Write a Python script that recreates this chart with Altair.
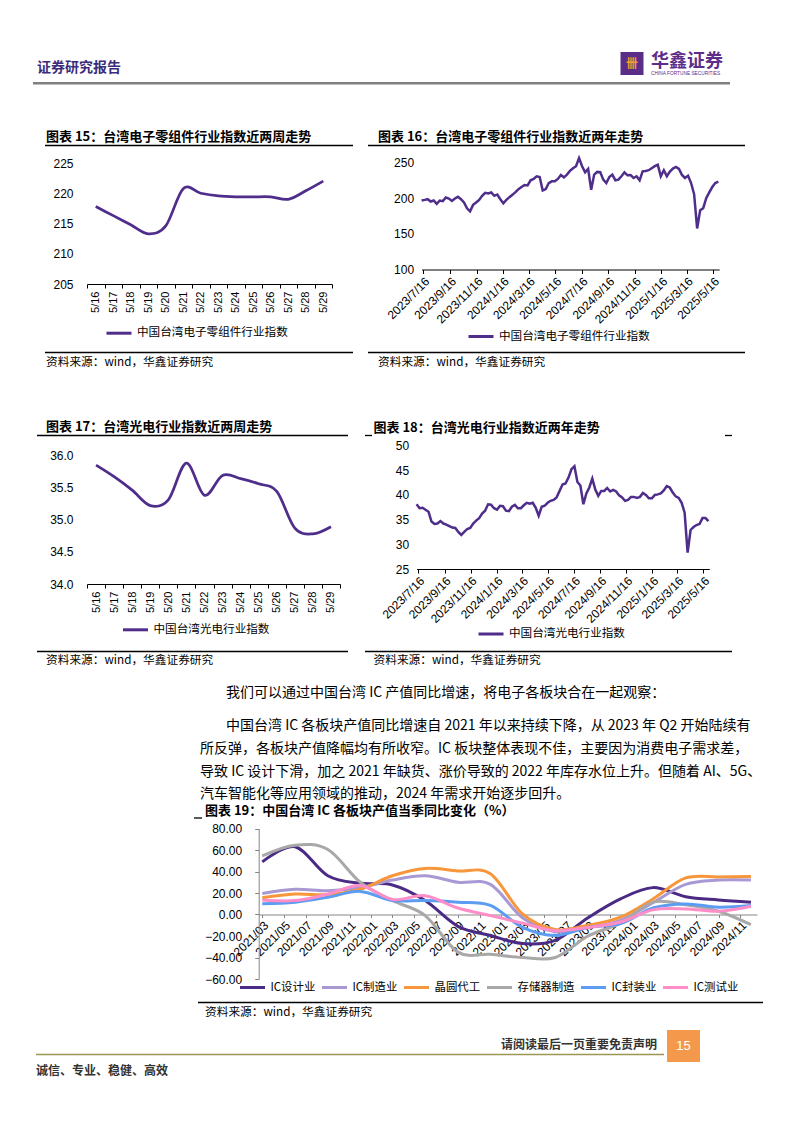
import altair as alt
import pandas as pd

W, H = 778, 1075
CJK = "Noto Sans CJK SC"
LAT = "Liberation Sans"
PURPLE = "#4F2D8B"


def P(v):
    """page pixel -> chart pixel (page has an 8px margin)"""
    return v - 8


# ------------------------------------------------------------------ data
c15_days = ["5/16", "5/17", "5/18", "5/19", "5/20", "5/21", "5/22",
            "5/23", "5/24", "5/25", "5/26", "5/27", "5/28", "5/29"]
c15_vals = [217.8, 216.3, 214.8, 213.3, 214.6, 220.75, 220.0,
            219.55, 219.4, 219.4, 219.4, 219.0, 220.4, 222.0]
c15_name = "中国台湾电子零组件行业指数"

c17_days = c15_days
c17_vals = [35.85, 35.67, 35.46, 35.22, 35.31, 35.88, 35.38,
            35.69, 35.64, 35.56, 35.44, 34.87, 34.78, 34.89]
c17_name = "中国台湾光电行业指数"

# weekly readings (Wednesdays from 2023-07-12)
c16_vals = [196.7, 197.6, 198.6, 195.3, 196.7, 192.0, 196.7, 195.8, 200.9, 199.5,
            196.2, 199.5, 201.9, 198.6, 193.9, 185.8, 181.6, 190.6, 193.9, 197.6,
            203.3, 207.5, 206.6, 208.0, 203.3, 205.2, 198.6, 192.9, 197.6, 201.4,
            204.7, 208.5, 212.7, 215.6, 218.4, 217.9, 225.0, 226.9, 230.7, 229.7,
            210.8, 212.7, 221.2, 223.6, 223.6, 226.9, 232.5, 229.2, 233.0, 238.2,
            242.0, 244.8, 256.1, 244.8, 236.3, 241.0, 211.8, 233.0, 236.8, 236.3,
            225.9, 221.2, 229.7, 233.0, 225.0, 225.9, 230.7, 236.3, 232.1, 232.5,
            228.3, 230.7, 225.0, 237.7, 238.2, 239.2, 242.0, 244.8, 246.7, 230.7,
            239.2, 230.7, 237.3, 241.5, 243.9, 241.0, 232.5, 228.3, 231.6, 221.2,
            205.7, 157.5, 183.0, 186.0, 200.0, 208.0, 215.6, 221.2, 223.1]
c18_vals = [38.1, 37.3, 37.4, 37.0, 36.6, 34.6, 34.1, 34.2, 34.7, 34.2,
            34.0, 33.7, 33.4, 33.3, 32.5, 31.9, 32.5, 33.1, 33.3, 34.2,
            34.8, 35.3, 36.2, 36.8, 38.1, 38.0, 37.3, 37.0, 37.8, 37.7,
            36.8, 36.7, 37.6, 38.0, 37.3, 37.3, 37.9, 38.4, 38.2, 38.4,
            37.4, 35.8, 37.6, 37.8, 38.4, 38.8, 39.0, 39.5, 40.8, 42.1,
            42.3, 43.5, 45.2, 45.8, 42.6, 41.9, 38.1, 40.3, 41.5, 43.3,
            41.1, 39.8, 40.8, 40.8, 41.4, 40.7, 41.0, 40.7, 39.9, 39.5,
            38.8, 39.0, 39.6, 39.6, 39.4, 39.6, 40.4, 40.0, 39.3, 39.3,
            40.0, 40.1, 40.3, 40.9, 41.8, 41.5, 40.5, 39.7, 39.4, 38.4,
            36.4, 28.3, 32.9, 33.5, 33.9, 34.1, 35.3, 35.3, 34.7]
week_dates = pd.date_range("2023-07-12", periods=len(c16_vals), freq="7D")
year_ticks = ["2023/7/16", "2023/9/16", "2023/11/16", "2024/1/16", "2024/3/16", "2024/5/16",
              "2024/7/16", "2024/9/16", "2024/11/16", "2025/1/16", "2025/3/16", "2025/5/16"]

q_dates = ["2021-03-01", "2021-06-01", "2021-09-01", "2021-12-01",
           "2022-03-01", "2022-06-01", "2022-09-01", "2022-12-01",
           "2023-03-01", "2023-06-01", "2023-09-01", "2023-12-01",
           "2024-03-01", "2024-06-01", "2024-09-01", "2024-12-01"]
ic_design = [49.0, 63.0, 36.0, 29.0, 27.5, 13.0, -11.0, -19.5, -27.0, -24.0, -3.0, 14.5, 25.0, 16.5, 13.5, 11.4]
ic_mfg = [19.5, 23.5, 22.0, 25.0, 32.0, 36.0, 30.0, 28.0, -3.0, -16.0, -12.0, -5.5, 11.0, 28.0, 32.0, 32.0]
foundry = [15.5, 19.0, 18.5, 23.5, 36.0, 42.8, 40.5, 38.0, 0.5, -14.0, -10.0, -2.5, 14.5, 34.0, 35.0, 35.4]
memory = [54.5, 64.5, 60.5, 30.0, 13.0, -1.0, -35.0, -37.0, -40.0, -40.0, -20.0, -8.0, 11.5, 9.0, 3.0, -9.5]
packaging = [10.0, 11.5, 16.0, 21.5, 13.0, 13.0, 11.5, 8.5, -12.0, -19.5, -12.0, -8.5, 6.0, 9.8, 6.8, 8.3]
testing = [13.5, 13.0, 19.0, 27.0, 14.0, 17.5, 6.0, -1.0, -8.0, -15.0, -12.0, -7.0, 4.3, 5.2, 3.0, 7.7]
series19 = ["IC设计业", "IC制造业", "晶圆代工", "存储器制造", "IC封装业", "IC测试业"]
colors19 = ["#4B2A85", "#A898D4", "#F7963A", "#A8A8A8", "#5C9CF2", "#FF8DC8"]
month_ticks = ["2021/03", "2021/05", "2021/07", "2021/09", "2021/11",
               "2022/01", "2022/03", "2022/05", "2022/07", "2022/09", "2022/11",
               "2023/01", "2023/03", "2023/05", "2023/07", "2023/09", "2023/11",
               "2024/01", "2024/03", "2024/05", "2024/07", "2024/09", "2024/11"]

# ------------------------------------------------------------------ helpers
dummy = pd.DataFrame({"k": [0]})


def txt(s, x, y, size=12, weight="normal", color="#000", font=CJK, align="left"):
    return alt.Chart(dummy).mark_text(
        align=align, baseline="middle", fontSize=size, fontWeight=weight,
        color=color, font=font
    ).encode(x=alt.value(P(x)), y=alt.value(P(y)), text=alt.value(s))


def hline(x1, x2, y, color="#000", w=1.2):
    return alt.Chart(dummy).mark_rule(color=color, strokeWidth=w).encode(
        x=alt.value(P(x1)), x2=alt.value(P(x2)), y=alt.value(P(y)))


def box(x1, x2, y1, y2, color):
    return alt.Chart(dummy).mark_rect(color=color).encode(
        x=alt.value(P(x1)), x2=alt.value(P(x2)), y=alt.value(P(y1)), y2=alt.value(P(y2)))


def yaxis(x_at, values, pad, fmt=None, ticks=False, domain=False, color="#000"):
    kw = dict(orient="left", offset=-P(x_at), values=values, title=None, grid=False,
              labelFont=LAT, labelFontSize=12, labelColor="#000", labelPadding=pad,
              domain=domain, ticks=ticks, tickSize=4 if ticks else 0,
              domainColor=color, tickColor=color)
    if fmt:
        kw["format"] = fmt
    return alt.Axis(**kw)


def xband_axis(y_at):
    return alt.Axis(orient="bottom", offset=P(y_at) - H, title=None, grid=False,
                    domainColor="#000", tickColor="#000", tickSize=4, tickBand="extent",
                    labelAngle=-90, labelAlign="right", labelBaseline="middle",
                    labelFont=LAT, labelFontSize=11, labelColor="#000", labelPadding=3,
                    labelOverlap=False, labelFlush=False)


def xtime_axis(y_at, vals, fmt, color="#000", tick=4):
    return alt.Axis(orient="bottom", offset=P(y_at) - H, values=vals, format=fmt,
                    title=None, grid=False, domainColor=color, tickColor=color,
                    tickSize=tick, labelAngle=-45, labelAlign="right", labelBaseline="top",
                    labelFont=LAT, labelFontSize=12, labelColor="#000", labelPadding=2,
                    labelOverlap=False, labelFlush=False)


def legend(x, y, size=11.6, **extra):
    return alt.Legend(orient="none", legendX=P(x), legendY=P(y) - 12.5,
                      direction="horizontal", title=None, symbolType="stroke",
                      symbolSize=625, symbolStrokeWidth=3, labelFont=CJK,
                      labelFontSize=size, labelColor="#000", labelOffset=4,
                      padding=0, **extra)


def dt(s):
    parts = [int(p) for p in s.replace("-", "/").split("/")]
    if len(parts) == 2:
        parts.append(1)
    return alt.DateTime(year=parts[0], month=parts[1], date=parts[2])


layers = []

# ------------------------------------------------------------------ header
layers += [
    txt("证券研究报告", 37, 68, size=14, weight="bold", color="#3C2D7C"),
    box(620.5, 643.5, 52, 75, "#5A2D86"),
    txt("卌", 632, 64, size=12, weight="bold", color="#F39A3C", align="center"),
    txt("华鑫证券", 651, 61.5, size=18, weight="bold", color="#5E2D89"),
    txt("CHINA FORTUNE SECURITIES", 651, 73.5, size=4.8, color="#5E2D89", font=LAT),
    hline(33, 730, 83.3, color="#7F7F7F", w=2.5),
]

# ------------------------------------------------------------------ chart 15
df15 = pd.DataFrame({"d": c15_days, "v": c15_vals, "s": c15_name})
ch15 = alt.Chart(df15).mark_line(interpolate="cardinal", strokeWidth=2.75).encode(
    x=alt.X("d:N", sort=c15_days,
            scale=alt.Scale(type="band", domain=c15_days, range=[P(87), P(332)],
                            paddingInner=0, paddingOuter=0),
            axis=xband_axis(284)),
    y=alt.Y("v:Q", scale=alt.Scale(domain=[205, 225], range=[P(284), P(163)], nice=False, zero=False),
            axis=yaxis(87, [205, 210, 215, 220, 225], pad=14)),
    color=alt.Color("s:N", scale=alt.Scale(domain=[c15_name], range=[PURPLE]),
                    legend=legend(105, 331.7)),
)
layers += [
    txt("图表 15：台湾电子零组件行业指数近两周走势", 46, 137, size=13, weight="bold"),
    hline(45, 353, 145.5, w=1.3),
    ch15,
    hline(45, 353, 352.5, w=1.3),
    txt("资料来源：wind，华鑫证券研究", 46, 361.5, size=11.7),
]

# ------------------------------------------------------------------ chart 16
df16 = pd.DataFrame({"t": week_dates, "v": c16_vals, "s": c15_name})
ch16 = alt.Chart(df16).mark_line(strokeWidth=2.5).encode(
    x=alt.X("t:T", scale=alt.Scale(domain=[dt("2023-07-12"), dt("2025-05-30")],
                                   range=[P(421.6), P(719.2)]),
            axis=xtime_axis(269.5, [dt(s) for s in year_ticks], "%Y/%-m/%-d")),
    y=alt.Y("v:Q", scale=alt.Scale(domain=[100, 250], range=[P(269.5), P(162.5)], nice=False, zero=False),
            axis=yaxis(421.6, [100, 150, 200, 250], pad=8)),
    color=alt.Color("s:N", scale=alt.Scale(domain=[c15_name], range=[PURPLE]),
                    legend=legend(467, 335)),
)
layers += [
    txt("图表 16：台湾电子零组件行业指数近两年走势", 378, 137, size=13, weight="bold"),
    hline(368, 745, 145.5, w=1.3),
    ch16,
    hline(368, 745, 352.5, w=1.3),
    txt("资料来源：wind，华鑫证券研究", 378, 361.5, size=11.7),
]

# ------------------------------------------------------------------ chart 17
df17 = pd.DataFrame({"d": c17_days, "v": c17_vals, "s": c17_name})
ch17 = alt.Chart(df17).mark_line(interpolate="cardinal", strokeWidth=2.75).encode(
    x=alt.X("d:N", sort=c17_days,
            scale=alt.Scale(type="band", domain=c17_days, range=[P(87), P(340)],
                            paddingInner=0, paddingOuter=0),
            axis=xband_axis(584)),
    y=alt.Y("v:Q", scale=alt.Scale(domain=[34, 36], range=[P(584), P(455.5)], nice=False, zero=False),
            axis=yaxis(87, [34.0, 34.5, 35.0, 35.5, 36.0], pad=14, fmt=".1f")),
    color=alt.Color("s:N", scale=alt.Scale(domain=[c17_name], range=[PURPLE]),
                    legend=legend(121.5, 628.3)),
)
layers += [
    txt("图表 17：台湾光电行业指数近两周走势", 46, 427, size=13, weight="bold"),
    hline(37, 348, 435.5, w=1.3),
    ch17,
    hline(37, 348, 651.5, w=1.3),
    txt("资料来源：wind，华鑫证券研究", 46, 659.5, size=11.7),
]

# ------------------------------------------------------------------ chart 18
df18 = pd.DataFrame({"t": week_dates, "v": c18_vals, "s": c17_name})
ch18 = alt.Chart(df18).mark_line(strokeWidth=2.5).encode(
    x=alt.X("t:T", scale=alt.Scale(domain=[dt("2023-07-12"), dt("2025-05-30")],
                                   range=[P(416.6), P(709.3)]),
            axis=xtime_axis(569, [dt(s) for s in year_ticks], "%Y/%-m/%-d")),
    y=alt.Y("v:Q", scale=alt.Scale(domain=[25, 50], range=[P(569), P(445.5)], nice=False, zero=False),
            axis=yaxis(416.6, [25, 30, 35, 40, 45, 50], pad=8)),
    color=alt.Color("s:N", scale=alt.Scale(domain=[c17_name], range=[PURPLE]),
                    legend=legend(477, 632.5)),
)
layers += [
    txt("图表 18：台湾光电行业指数近两年走势", 373.5, 428, size=13, weight="bold"),
    hline(365, 372, 435.5, w=1.3),
    hline(725, 732, 435.5, w=1.3),
    ch18,
    hline(365, 732, 651.5, w=1.3),
    txt("资料来源：wind，华鑫证券研究", 373.5, 659.5, size=11.7),
]

# ------------------------------------------------------------------ body text
layers += [
    txt("我们可以通过中国台湾 IC 产值同比增速，将电子各板块合在一起观察：", 226, 692.5, size=14),
    txt("中国台湾 IC 各板块产值同比增速自 2021 年以来持续下降，从 2023 年 Q2 开始陆续有", 226, 726, size=14),
    txt("所反弹，各板块产值降幅均有所收窄。IC 板块整体表现不佳，主要因为消费电子需求差，", 200, 749, size=14),
    txt("导致 IC 设计下滑，加之 2021 年缺货、涨价导致的 2022 年库存水位上升。但随着 AI、5G、", 200, 772, size=14),
    txt("汽车智能化等应用领域的推动，2024 年需求开始逐步回升。", 200, 794, size=14),
]

# ------------------------------------------------------------------ chart 19
rows = []
for name, vals in zip(series19, [ic_design, ic_mfg, foundry, memory, packaging, testing]):
    for d, v in zip(q_dates, vals):
        rows.append({"t": pd.Timestamp(d), "v": v, "s": name})
df19 = pd.DataFrame(rows)
zero_y = 979 - 60 * (979 - 828.5) / 140
ch19 = alt.Chart(df19).mark_line(interpolate="cardinal", strokeWidth=3).encode(
    x=alt.X("t:T", scale=alt.Scale(domain=[dt("2021-02-19"), dt("2024-12-18")],
                                   range=[P(258.7), P(757)]),
            axis=xtime_axis(zero_y, [dt(s) for s in month_ticks], "%Y/%m", color="#868686", tick=3)),
    y=alt.Y("v:Q", scale=alt.Scale(domain=[-60, 80], range=[P(979), P(828.5)], nice=False, zero=False),
            axis=yaxis(258.7, [-60, -40, -20, 0, 20, 40, 60, 80], pad=13, fmt=".2f",
                       ticks=True, domain=True, color="#868686")),
    color=alt.Color("s:N", scale=alt.Scale(domain=series19, range=colors19),
                    legend=legend(238.5, 986, size=11.4, columnPadding=0, gridAlign="none")),
    detail="s:N",
)
layers += [
    txt("图表 19：中国台湾 IC 各板块产值当季同比变化（%）", 205, 810.5, size=13, weight="bold"),
    hline(194, 202, 818, w=1.3),
    ch19,
    hline(198, 763, 1002.5, w=1.3),
    txt("资料来源：wind，华鑫证券研究", 205, 1012, size=11.7),
]

# ------------------------------------------------------------------ footer
layers += [
    txt("请阅读最后一页重要免责声明", 501, 1045, size=12, weight="bold", color="#333"),
    box(667, 700, 1030, 1062, "#F4994B"),
    txt("15", 683.5, 1046, size=13, color="#FFFFFF", font=LAT, align="center"),
    hline(36, 664, 1054.5, color="#9C9656", w=1.5),
    txt("诚信、专业、稳健、高效", 36, 1071, size=12, weight="bold", color="#333"),
]

chart = alt.layer(*layers).resolve_scale(
    x="independent", y="independent", color="independent"
).resolve_axis(
    x="independent", y="independent"
).resolve_legend(
    color="independent"
).properties(
    width=W, height=H, padding=0, autosize=alt.AutoSizeParams(type="none")
).configure_view(stroke="transparent")

chart.save("out.html", embed_options={"renderer": "svg", "actions": False})
